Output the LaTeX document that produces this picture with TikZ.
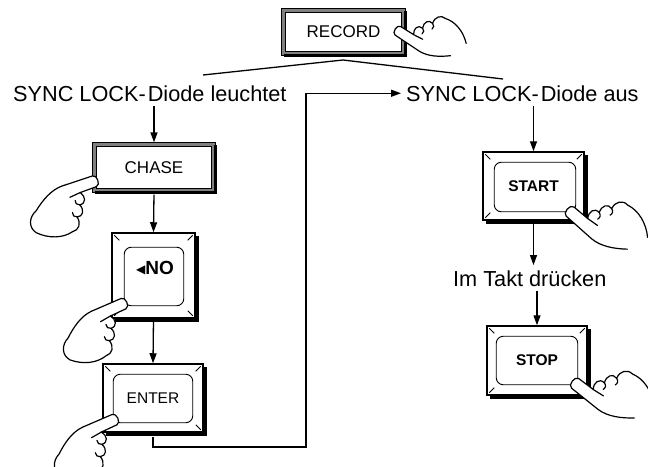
\documentclass[tikz,border=0pt]{standalone}
\usepackage{fontspec}
\setmainfont{Liberation Sans}
\newfontfamily\symbolfont{DejaVu Sans}
\usetikzlibrary{arrows.meta,calc}

\tikzset{
  handline/.style={line width=1.2pt, line join=round, line cap=round},
  % pointing hand: finger tip at the origin, finger along +x,
  % curled fingers stacked on top of it, wrist open at the far end
  hand/.pic={
    \draw[handline, fill=white]
      (72,-8) .. controls (62,0) and (50,7) .. (38,7) -- (4,6)
      .. controls (-1,6) and (-1,-6) .. (4,-6) -- (22,-6)
      .. controls (18,-12) and (20,-19) .. (27,-18)
      .. controls (24,-25) and (28,-31) .. (34,-29)
      .. controls (32,-37) and (37,-43) .. (44,-42)
      .. controls (56,-45) and (70,-40) .. (80,-30);
    \draw[handline] (22,-6) -- (34,-7);
    \draw[handline] (27,-18) .. controls (30,-17) and (31,-15) .. (30,-12);
    \draw[handline] (34,-29) .. controls (37,-28) and (38,-26) .. (37,-23);
  },
  % the same hand with a rounded wrist
  closedhand/.pic={
    \draw[handline, fill=white]
      (72,-8) .. controls (62,0) and (50,7) .. (38,7) -- (4,6)
      .. controls (-1,6) and (-1,-6) .. (4,-6) -- (22,-6)
      .. controls (18,-12) and (20,-19) .. (27,-18)
      .. controls (24,-25) and (28,-31) .. (34,-29)
      .. controls (32,-37) and (37,-43) .. (44,-42)
      .. controls (56,-45) and (70,-40) .. (80,-30)
      .. controls (86,-22) and (82,-12) .. cycle;
    \draw[handline] (22,-6) -- (34,-7);
    \draw[handline] (27,-18) .. controls (30,-17) and (31,-15) .. (30,-12);
    \draw[handline] (34,-29) .. controls (37,-28) and (38,-26) .. (37,-23);
  }
}

\begin{document}
\begin{tikzpicture}[x=1pt,y=-1pt,
  conn/.style={line width=1.3pt},
  arr/.style={conn,-{Triangle[length=10pt,width=7pt]}},
  lbl/.style={font=\fontsize{21.7}{25}\selectfont, inner sep=5pt},
  framebtn/.style={draw, line width=1.3pt, fill=white, inner sep=0pt,
                   font=\fontsize{17}{20}\selectfont},
  keybtn/.style={draw, line width=1.5pt, fill=white, inner sep=0pt},
  keytxt/.style={font=\fontsize{15.5}{18}\selectfont},
  keybold/.style={font=\bfseries\fontsize{15.5}{18}\selectfont}]

\useasboundingbox[fill=white] (0,0) rectangle (648,466);

% buttons
\node[framebtn, minimum width=123pt, minimum height=46pt] (record) at (343.5,32) {RECORD};
\node[framebtn, minimum width=122pt, minimum height=49pt] (chase) at (154,167.5) {CHASE};
\node[keybtn, minimum width=83pt, minimum height=85pt] (no) at (153.5,275.5) {};
\node[keybtn, keytxt, minimum width=100pt, minimum height=68pt] (enter) at (153,398) {ENTER};
\node[keybtn, keybold, minimum width=101pt, minimum height=68pt] (start) at (533.5,186) {START};
\node[keybtn, keybold, minimum width=100pt, minimum height=69pt] (stop) at (537,360.5) {STOP};
\node[font=\bfseries\fontsize{19}{22}\selectfont, inner sep=0pt] (notext) at (155,268)
  {\raisebox{1.5pt}{\symbolfont\fontsize{12}{12}\selectfont ◀}NO};

% framed buttons: double border with a dark band
\foreach \b in {record,chase} {
  \fill[black!50, even odd rule] (\b.north west) rectangle (\b.south east)
    ($(\b.north west)+(4,4)$) rectangle ($(\b.south east)+(-4,-4)$);
  \draw[line width=1.2pt] ($(\b.north west)+(4,4)$) rectangle ($(\b.south east)+(-4,-4)$);
  \draw[line width=1.5pt] (\b.north west) rectangle (\b.south east);
  \draw[line width=2.6pt] ($(\b.north east)+(0,3)$) -- (\b.south east) -- ($(\b.south west)+(3,0)$);
}

% keys: rounded face, corner bevels, heavy shadow edge
\foreach \k/\il/\it/\ir/\ib in {no/13/15/12/13, enter/11/11/11/10, start/12/11/9/9, stop/10/11/10/11} {
  \draw[line width=0.9pt, rounded corners=7pt]
    ($(\k.north west)+(\il,\it)$) rectangle ($(\k.south east)+(-\ir,-\ib)$);
  \draw[line width=0.8pt] ($(\k.north west)+(3,3)$) -- ($(\k.north west)+(8,8)$);
  \draw[line width=0.8pt] ($(\k.north east)+(-3,3)$) -- ($(\k.north east)+(-8,8)$);
  \draw[line width=0.8pt] ($(\k.south west)+(3,-3)$) -- ($(\k.south west)+(8,-8)$);
  \draw[line width=0.8pt] ($(\k.south east)+(-3,-3)$) -- ($(\k.south east)+(-8,-8)$);
  \draw[line width=3.5pt] ($(\k.north east)+(1,4)$) -- ($(\k.south east)+(1,1)$) -- ($(\k.south west)+(4,1)$);
}

% labels
\node[lbl, anchor=base west] (lab1) at (8,101) {SYNC LOCK-\kern2pt Diode leuchtet};
\node[lbl, anchor=base west] (lab2) at (401,101) {SYNC LOCK-\kern2pt Diode aus};
\node[lbl, anchor=base west] (lab3) at (448,286) {Im Takt drücken};

% branches from RECORD
\coordinate (apex) at (343,60);
\coordinate (brL) at (203,75);
\coordinate (brR) at (503,79);
\draw[conn] (brL) -- (apex) -- (brR);

% flow arrows
\draw[arr] (lab1.south -| chase.north) -- (chase.north);
\draw[arr, shorten <=2pt] (chase.south) -- (no.north);
\draw[arr, shorten <=3pt] (no.south) -- (enter.north);
\coordinate (loopbot) at (306,447);
\draw[arr] ([yshift=-4pt]enter.south) |- (loopbot) |- (lab2.west);
\draw[arr] (lab2.south -| start.north) -- (start.north);
\draw[arr, shorten <=3pt] (start.south) -- (lab3.north -| start.south);
\draw[arr] (lab3.south -| stop.north) -- (stop.north);

% hands
\pic[rotate=-32, scale=0.85] (hrecord) at (395,29) {hand};
\pic[rotate=-40, scale=1] (hstart) at (567,209) {hand};
\pic[rotate=-37, scale=1] (hstop) at (572,381) {hand};
\pic[rotate=200, scale=0.95] (hchase) at (98,180) {closedhand};
\pic[rotate=205, scale=0.95] (hno) at (127,302) {closedhand};
\pic[rotate=205, scale=0.95] (henter) at (118,418) {closedhand};
\end{tikzpicture}
\end{document}
